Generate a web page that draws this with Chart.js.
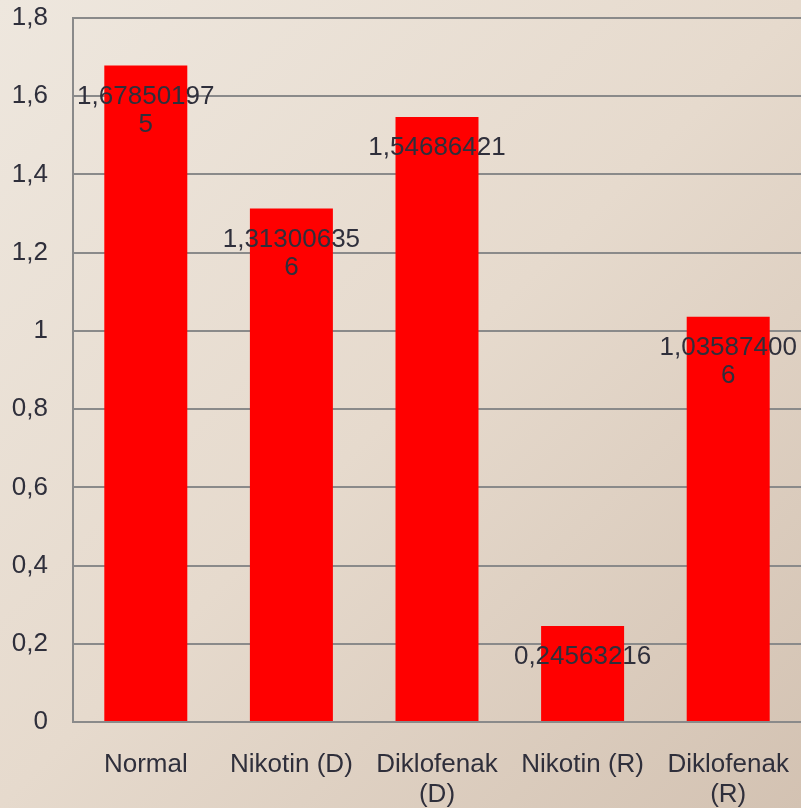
<!DOCTYPE html>
<html>
<head>
<meta charset="utf-8">
<script src="https://cdn.jsdelivr.net/npm/chart.js@4/dist/chart.umd.min.js"></script>
<style>
  body { margin: 0; }
  #wrap {
    width: 801px; height: 808px; position: relative;
    background: linear-gradient(135deg, #eee7de 0%, #e6dacd 50%, #d3c2b2 100%);
  }
</style>
</head>
<body>
<div id="wrap"><canvas id="myChart"></canvas></div>
<script>
const categories = ['Normal', 'Nikotin (D)', ['Diklofenak', '(D)'], 'Nikotin (R)', ['Diklofenak', '(R)']];
const values = [1.678501975, 1.313006356, 1.54686421, 0.24563216, 1.035874006];
const yTicks = [0, 0.2, 0.4, 0.6, 0.8, 1, 1.2, 1.4, 1.6, 1.8];

const textColor = '#2f2f3b';
const gridColor = '#8a8a8a';

const toComma = v => String(v).replace('.', ',');

// data labels inside the top of each bar, wrapped at 10 chars like the original
const barLabels = {
    id: 'barLabels',
    afterDatasetsDraw(chart) {
        const ctx = chart.ctx;
        const meta = chart.getDatasetMeta(0);
        ctx.save();
        ctx.font = '26px "Liberation Sans", Arial, sans-serif';
        ctx.fillStyle = textColor;
        ctx.textAlign = 'center';
        ctx.textBaseline = 'middle';
        meta.data.forEach((bar, i) => {
            const s = toComma(values[i]);
            const lines = [];
            for (let k = 0; k < s.length; k += 10) lines.push(s.slice(k, k + 10));
            lines.forEach((ln, j) => {
                ctx.fillText(ln, bar.x, bar.y + 31 + j * 28);
            });
        });
        ctx.restore();
    }
};

const ctx = document.getElementById('myChart').getContext('2d');
const myChart = new Chart(ctx, {
    type: 'bar',
    data: {
        labels: categories,
        datasets: [{
            data: values,
            backgroundColor: '#ff0000',
            borderWidth: 0,
            barPercentage: 0.57,
            categoryPercentage: 1
        }]
    },
    options: {
        responsive: true,
        maintainAspectRatio: false,
        animation: false,
        layout: { padding: { top: 18, right: 0, left: 0, bottom: 0 } },
        plugins: {
            legend: { display: false },
            tooltip: { enabled: false }
        },
        scales: {
            x: {
                grid: { display: false, drawTicks: false },
                border: { color: gridColor, width: 2 },
                ticks: {
                    color: textColor,
                    padding: 28,
                    maxRotation: 0,
                    autoSkip: false,
                    font: { family: '"Liberation Sans", Arial, sans-serif', size: 26, lineHeight: 1.15 }
                },
                afterFit(scale) {
                    scale.height = 86;
                    scale.paddingLeft = 0;
                    scale.paddingRight = 0;
                }
            },
            y: {
                min: 0,
                max: 1.8,
                afterBuildTicks(scale) { scale.ticks = yTicks.map(v => ({ value: v })); },
                grid: { color: gridColor, lineWidth: 2, drawTicks: false },
                border: { color: gridColor, width: 2 },
                ticks: {
                    color: textColor,
                    padding: 25,
                    font: { family: '"Liberation Sans", Arial, sans-serif', size: 26 },
                    callback: v => toComma(v)
                },
                afterFit(scale) {
                    scale.width = 73;
                    scale.paddingTop = 0;
                    scale.paddingBottom = 0;
                }
            }
        }
    },
    plugins: [barLabels]
});
</script>
</body>
</html>
